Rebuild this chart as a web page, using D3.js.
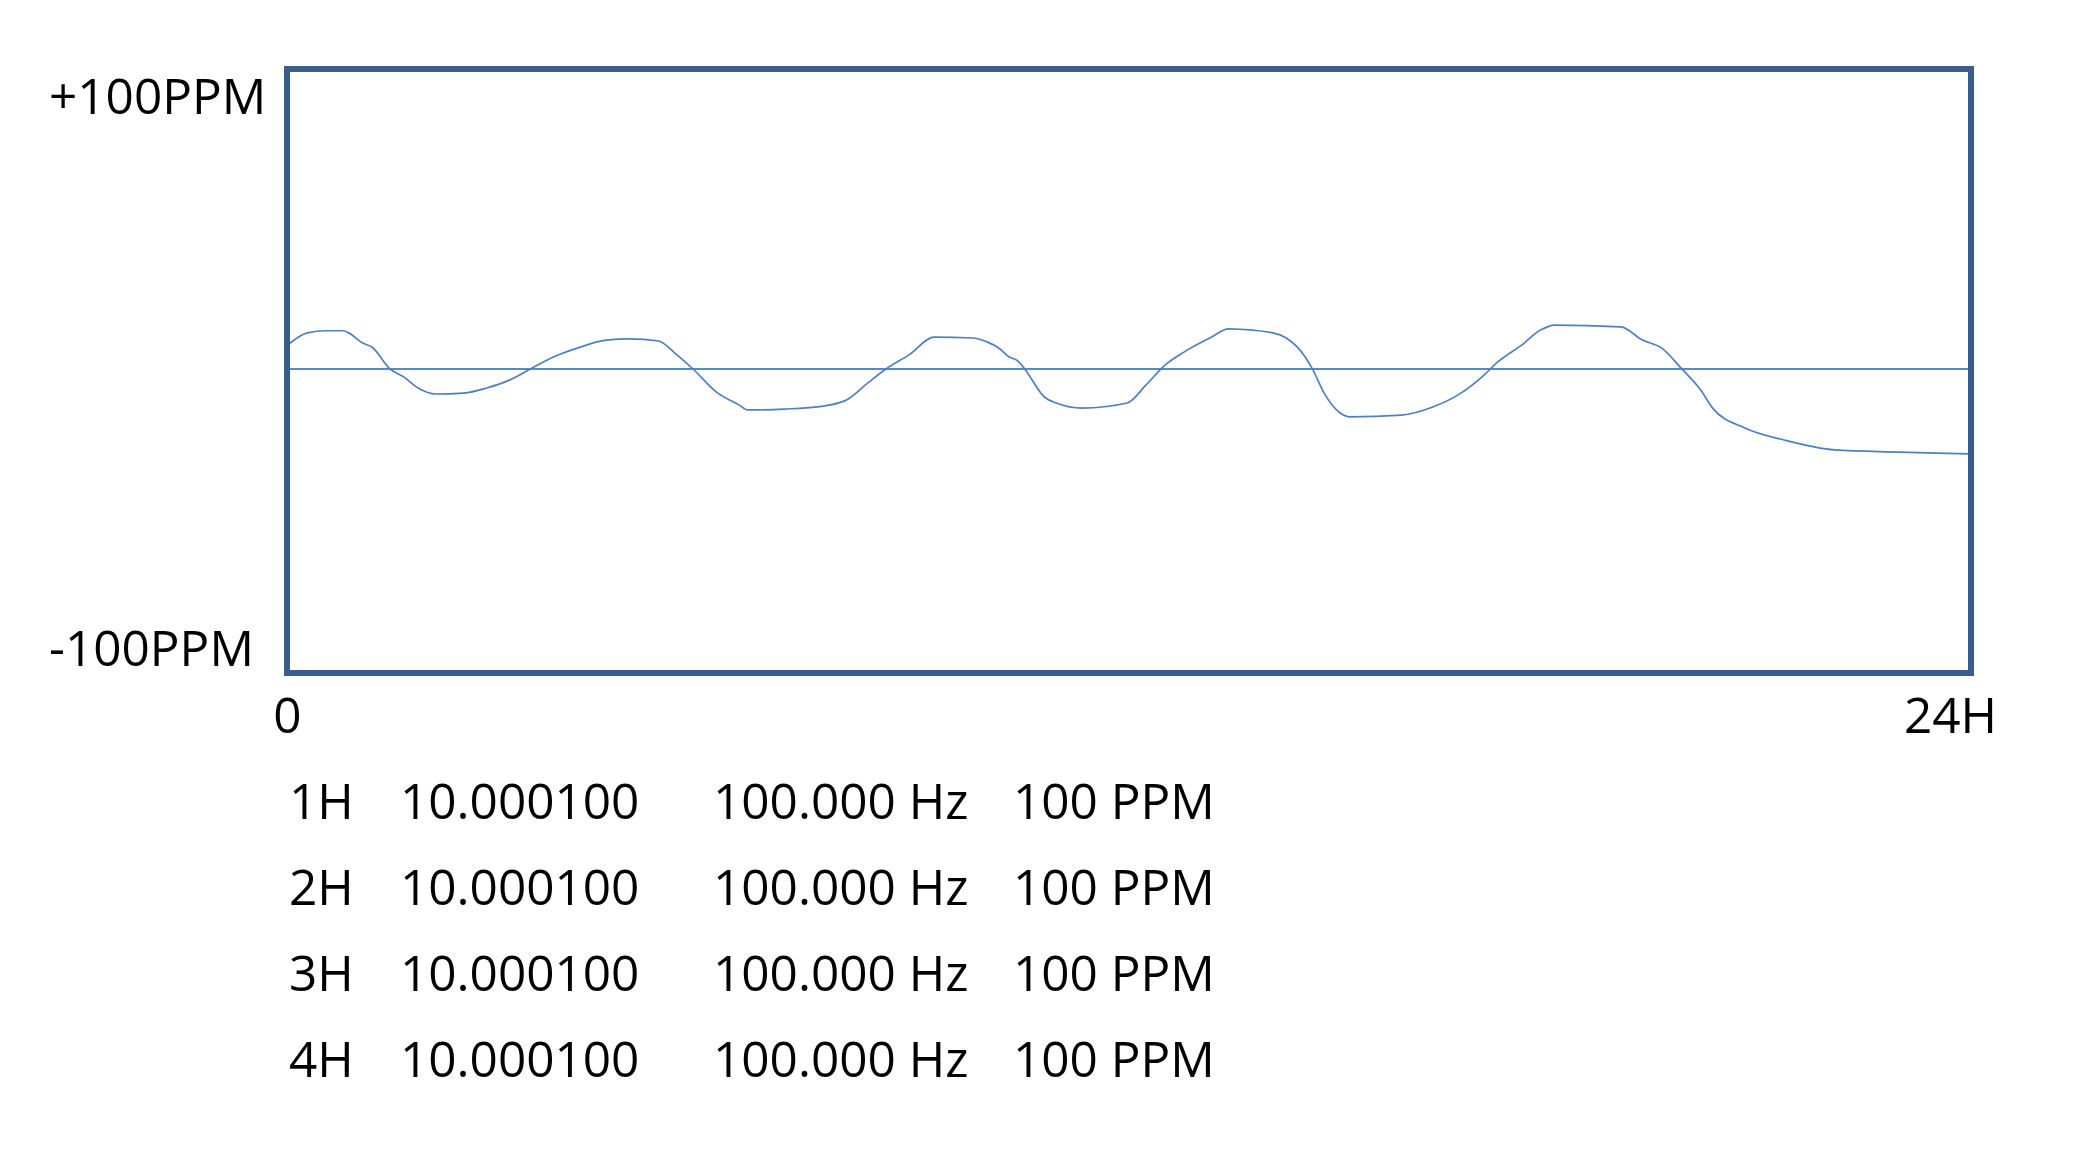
<!DOCTYPE html>
<html><head><meta charset="utf-8">
<script src="https://cdn.jsdelivr.net/npm/d3@7"></script>
<style>
html,body{margin:0;padding:0;background:#fff;}
svg{display:block;}
</style>
</head><body><div id="chart"></div>
<script>
// ---- data ----
const hours = [0, 0.29, 0.56, 0.81, 0.88, 1.08, 1.21, 1.47, 1.67, 1.87, 2.12, 2.52, 2.85, 3.17, 3.47, 3.83, 4.15, 4.55, 4.88, 5.30, 5.53, 5.79, 6.12, 6.45, 6.57, 7.10, 7.56, 7.96, 8.28, 8.54, 8.87, 9.23, 9.78, 9.98, 10.15, 10.30, 10.42, 10.52, 10.80, 10.97, 11.34, 11.98, 12.25, 12.52, 12.79, 13.16, 13.43, 14.06, 14.25, 14.52, 14.63, 14.79, 15.02, 15.16, 15.89, 16.34, 16.70, 17.07, 17.25, 17.61, 17.88, 18.07, 19.02, 19.33, 19.60, 19.88, 20.16, 20.33, 20.79, 21.35, 22.07, 22.97, 24];
const ppmValues = [7.8, 12.0, 12.7, 12.7, 12.0, 8.6, 7.3, 0, -2.7, -6.3, -8.3, -8.0, -6.3, -3.7, 0, 4.3, 7.0, 9.6, 10.0, 9.3, 5.3, 0, -7.6, -12.0, -13.6, -13.3, -12.6, -10.5, -4.7, 0, 4.7, 10.6, 10.3, 9.0, 7.0, 4.0, 2.7, 0, -9.3, -11.3, -13.0, -11.3, -5.3, 1.3, 5.6, 10.3, 13.3, 12.0, 10.3, 4.0, -0.3, -8.0, -14.6, -15.9, -15.3, -12.6, -8.6, -2.0, 2.0, 8.0, 13.0, 14.6, 14.0, 9.6, 7.0, 0.3, -7.0, -13.0, -19.6, -23.6, -26.9, -27.6, -28.2];
const zeroHours = [0, 24];
const zeroValues = [0, 0];
const yTickValues = [100, -100];
const yTickLabels = ["+100PPM", "-100PPM"];
const xTickValues = [0, 24];
const xTickLabels = ["0", "24H"];
const rowLabels = ["1H", "2H", "3H", "4H"];
const freqValues = ["10.000100", "10.000100", "10.000100", "10.000100"];
const hzValues = ["100.000 Hz", "100.000 Hz", "100.000 Hz", "100.000 Hz"];
const ppmLabels = ["100 PPM", "100 PPM", "100 PPM", "100 PPM"];

// ---- layout ----
const W = 2090, H = 1174;
const box = {left: 287, right: 1970, top: 68, bottom: 670};
const FONT = "'Open Sans', 'Noto Sans', sans-serif";
const FS = 49.5;

const svg = d3.select("#chart").append("svg").attr("width", W).attr("height", H);
svg.append("rect").attr("width", W).attr("height", H).attr("fill", "#fff");

const x = d3.scaleLinear().domain([0, 24]).range([box.left, box.right]);
const y = d3.scaleLinear().domain([-100, 100]).range([box.bottom, box.top]);

const line = d3.line().x(d => x(d[0])).y(d => y(d[1]));

// zero reference line
svg.append("path")
  .datum(zeroHours.map((h, i) => [h, zeroValues[i]]))
  .attr("d", line.curve(d3.curveLinear)).attr("fill", "none")
  .attr("stroke", "#5B87C6").attr("stroke-width", 2.2);

// drift curve
svg.append("path")
  .datum(hours.map((h, i) => [h, ppmValues[i]]))
  .attr("d", line.curve(d3.curveMonotoneX)).attr("fill", "none")
  .attr("stroke", "#4F7FC0").attr("stroke-width", 1.7)
  .attr("stroke-linejoin", "round");

// frame
svg.append("rect")
  .attr("x", box.left).attr("y", box.top + 1)
  .attr("width", box.right - box.left + 1).attr("height", box.bottom - box.top + 2)
  .attr("fill", "none").attr("stroke", "#3A5E8C").attr("stroke-width", 6);

// y axis labels
const yAxis = d3.axisLeft(y).tickValues(yTickValues)
  .tickFormat((d, i) => yTickLabels[i]).tickSize(0);
const gy = svg.append("g").attr("transform", `translate(${box.left},0)`).call(yAxis);
gy.attr("font-size", null).attr("font-family", null);
gy.select(".domain").remove();
gy.selectAll("text")
  .attr("text-anchor", "start")
  .attr("x", 49 - box.left)
  .attr("dy", null)
  .attr("y", d => d > 0 ? 113 - y(d) : 665 - y(d))
  .style("font-family", FONT).style("font-size", FS + "px").attr("fill", "#000");

// x axis labels
const xAxis = d3.axisBottom(x).tickValues(xTickValues)
  .tickFormat((d, i) => xTickLabels[i]).tickSize(0);
const gx = svg.append("g").attr("transform", `translate(0,${box.bottom})`).call(xAxis);
gx.attr("font-size", null).attr("font-family", null);
gx.select(".domain").remove();
gx.selectAll("text")
  .attr("text-anchor", "middle")
  .attr("dy", null)
  .attr("y", 733 - box.bottom)
  .attr("x", d => d === 24 ? -20 : 0)
  .style("font-family", FONT).style("font-size", FS + "px").attr("fill", "#000");

// table
const colX = [289, 400, 713, 1013];
const rowBase = [819, 905, 991, 1077];
const rows = rowLabels.map((r, i) => [r, freqValues[i], hzValues[i], ppmLabels[i]]);
const gt = svg.append("g").style("font-family", FONT).style("font-size", FS + "px");
rows.forEach((row, i) => {
  gt.selectAll(null).data(row).enter().append("text")
    .attr("x", (d, j) => colX[j]).attr("y", rowBase[i])
    .attr("fill", "#000").text(d => d);
});
</script>
</body></html>
